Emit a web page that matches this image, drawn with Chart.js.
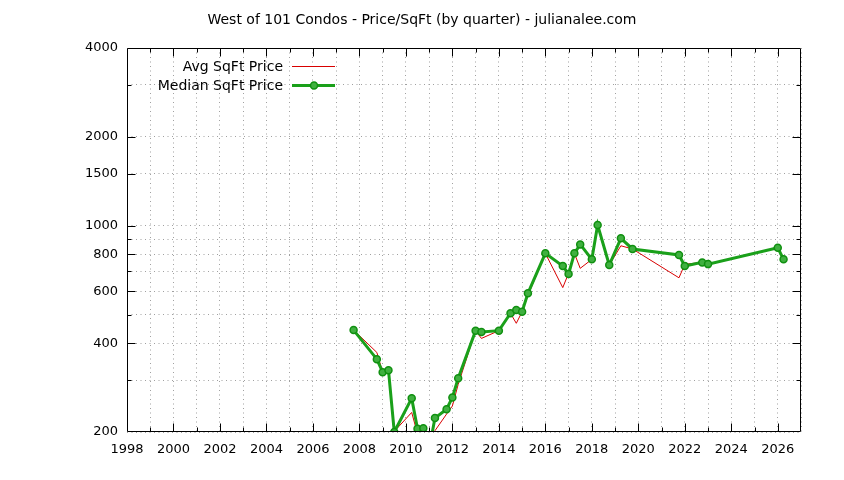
<!DOCTYPE html>
<html>
<head>
<meta charset="utf-8">
<script src="https://cdn.jsdelivr.net/npm/chart.js@4.4.0/dist/chart.umd.min.js"></script>
<style>
  html, body { margin: 0; padding: 0; background: #fff; }
  #wrap { width: 844px; height: 480px; }
</style>
</head>
<body>
<div id="wrap"><canvas id="chart" width="844" height="480"></canvas></div>
<script>
const quarters = [2007.75, 2008.75, 2009, 2009.25, 2009.5, 2010.25, 2010.5, 2010.75, 2011, 2011.25,
    2011.75, 2012, 2012.25, 2013, 2013.25, 2014, 2014.5, 2014.75, 2015, 2015.25,
    2016, 2016.75, 2017, 2017.25, 2017.5, 2018, 2018.25, 2018.75, 2019.25, 2019.75,
    2021.75, 2022, 2022.75, 2023, 2026, 2026.25];
const avgPrice = [443, 372, 319, 324, 201, 233, 197, 196, 178, 202,
    230, 245, 290, 441, 415, 441, 505, 467, 511, 580,
    806, 617, 690, 806, 717, 769, 1005, 736, 855, 834,
    666, 740, 751, 741, 842, 769];
const medianPrice = [443, 353, 319, 324, 200, 260, 205, 206, 175, 223,
    239, 262, 304, 441, 436, 441, 505, 518, 511, 590,
    806, 730, 686, 806, 864, 769, 1005, 736, 906, 834,
    796, 730, 751, 741, 842, 769];

const yGridValues = [200, 300, 400, 500, 600, 700, 800, 900, 1000, 1500, 2000, 3000, 4000];
const yLabelValues = [200, 400, 600, 800, 1000, 1500, 2000, 4000];

const titleText = "West of 101 Condos - Price/SqFt (by quarter) - julianalee.com";
const avgLabel = "Avg SqFt Price";
const medianLabel = "Median SqFt Price";

const TEXT_FONT = '14px "DejaVu Sans"';
const RED = "#d80000";
const GREEN = "#1aa01a";

// gnuplot-like frame: box, inward mirrored ticks, title and key
const gnuplotFrame = {
    id: "gnuplotFrame",
    afterDraw(chart) {
        const { ctx, chartArea: a, scales } = chart;
        const xs = scales.x, ys = scales.y;
        const L = Math.round(a.left) + 0.5, R = Math.round(a.right) - 0.5;
        const T = Math.round(a.top) + 0.5, B = Math.round(a.bottom) - 0.5;
        ctx.save();
        ctx.strokeStyle = "#000";
        ctx.lineWidth = 1;
        ctx.beginPath();
        ctx.rect(L, T, R - L, B - T);

        for (let yr = 1999; yr < 2027; yr++) {
            const px = Math.round(xs.getPixelForValue(yr)) + 0.5;
            const len = yr % 2 === 0 ? 8 : 4;
            ctx.moveTo(px, B); ctx.lineTo(px, B - len);
            ctx.moveTo(px, T); ctx.lineTo(px, T + len);
        }
        yGridValues.forEach((v) => {
            if (v === 200 || v === 4000) return;
            const py = Math.round(ys.getPixelForValue(v)) + 0.5;
            const len = yLabelValues.includes(v) ? 8 : 4;
            ctx.moveTo(L, py); ctx.lineTo(L + len, py);
            ctx.moveTo(R, py); ctx.lineTo(R - len, py);
        });
        ctx.stroke();

        // title
        ctx.fillStyle = "#000";
        ctx.font = TEXT_FONT;
        ctx.textAlign = "center";
        ctx.textBaseline = "middle";
        ctx.fillText(titleText, 422, 20);

        // key
        ctx.textAlign = "right";
        ctx.fillText(avgLabel, 283, 67);
        ctx.fillText(medianLabel, 283, 86);
        ctx.beginPath();
        ctx.strokeStyle = RED;
        ctx.lineWidth = 1;
        ctx.moveTo(292, 66.5); ctx.lineTo(335, 66.5);
        ctx.stroke();
        ctx.beginPath();
        ctx.strokeStyle = GREEN;
        ctx.lineWidth = 3;
        ctx.moveTo(292, 85.5); ctx.lineTo(335, 85.5);
        ctx.stroke();
        ctx.beginPath();
        ctx.fillStyle = "#40b040";
        ctx.strokeStyle = "#109010";
        ctx.lineWidth = 1.5;
        ctx.arc(314, 85.5, 3.5, 0, Math.PI * 2);
        ctx.fill();
        ctx.stroke();
        ctx.restore();
    },
};

const toPoints = (vals) => quarters.map((q, i) => ({ x: q, y: vals[i] }));

new Chart(document.getElementById("chart"), {
    type: "line",
    data: {
        datasets: [
            {
                label: avgLabel,
                data: toPoints(avgPrice),
                borderColor: RED,
                borderWidth: 1,
                pointRadius: 0,
                tension: 0,
                order: 1,
            },
            {
                label: medianLabel,
                data: toPoints(medianPrice),
                borderColor: GREEN,
                borderWidth: 3,
                pointRadius: 3.5,
                pointBorderWidth: 1.5,
                pointBackgroundColor: "#40b040",
                pointBorderColor: "#109010",
                tension: 0,
                order: 0,
            },
        ],
    },
    options: {
        responsive: false,
        animation: false,
        layout: { padding: { top: 48, right: 43, left: 0, bottom: 0 } },
        plugins: {
            legend: { display: false },
            title: { display: false },
            tooltip: { enabled: false },
        },
        scales: {
            x: {
                type: "linear",
                min: 1998,
                max: 2027,
                afterFit: (s) => { s.height = 48; },
                ticks: {
                    stepSize: 1,
                    autoSkip: false,
                    maxRotation: 0,
                    padding: 10,
                    color: "#000",
                    font: { family: "DejaVu Sans", size: 13 },
                    callback: (v) => (v % 2 === 0 && v < 2027 ? String(v) : ""),
                },
                grid: { color: "#a0a0a0", lineWidth: 1, drawTicks: false },
                border: { display: false, dash: [1, 3.5] },
            },
            y: {
                type: "logarithmic",
                min: 200,
                max: 4000,
                afterFit: (s) => { s.width = 127; },
                afterBuildTicks: (s) => { s.ticks = yGridValues.map((v) => ({ value: v })); },
                ticks: {
                    autoSkip: false,
                    padding: 9,
                    color: "#000",
                    font: { family: "DejaVu Sans", size: 13 },
                    callback: (v) => (yLabelValues.includes(v) ? String(v) : ""),
                },
                grid: { color: "#a0a0a0", lineWidth: 1, drawTicks: false },
                border: { display: false, dash: [1, 3.5] },
            },
        },
    },
    plugins: [gnuplotFrame],
});
</script>
</body>
</html>
